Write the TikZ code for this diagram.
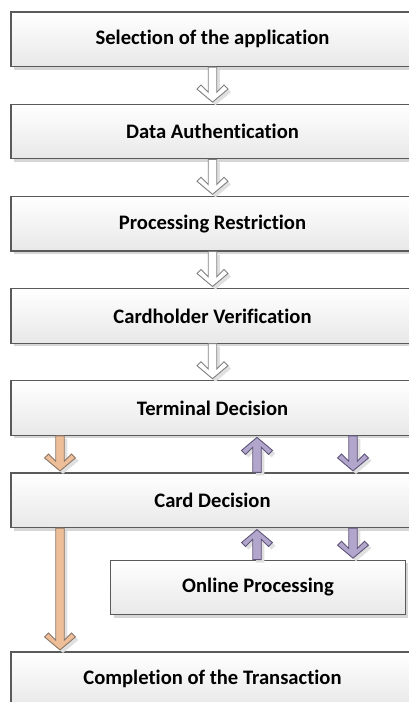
\documentclass[tikz,border=0pt]{standalone}
\usepackage{fontspec}
\setmainfont{Carlito}[Ligatures=NoCommon]
\usetikzlibrary{positioning,calc,shadows}

\definecolor{boxline}{HTML}{5A5A5A}
\definecolor{orangefill}{HTML}{EDBE98}
\definecolor{orangeline}{HTML}{8C7766}
\definecolor{purplefill}{HTML}{B2A6CC}
\definecolor{purpleline}{HTML}{5E5478}

\tikzset{
  stage/.style={rectangle, draw=boxline, line width=1.2pt, top color=white, bottom color=black!9,
    minimum width=403pt, minimum height=54.5pt, inner sep=0pt,
    font=\bfseries\fontsize{20.6}{24}\selectfont,
    drop shadow={shadow xshift=3pt, shadow yshift=-3pt, fill=black!16, opacity=1}},
  grayarrow/.style={draw=black!50, fill=white, line width=0.9pt, line join=miter,
    drop shadow={shadow xshift=3pt, shadow yshift=-3pt, fill=black!12, opacity=1}},
  orangearrow/.style={grayarrow, draw=orangeline, fill=orangefill},
  purplearrow/.style={grayarrow, draw=purpleline, fill=purplefill},
}

% block arrow: style, tail, tip, direction (1 = down, -1 = up)
\newcommand{\blkarrow}[4][grayarrow]{%
  \draw[#1] ($(#2)+(-4.25,0)$) -- ($(#3)+(-4.25,-11.25*#4)$) -- ($(#3)+(-11.5,-18.5*#4)$)
    -- ($(#3)+(-15.5,-14.5*#4)$) -- ($(#3)+(0,-1.5*#4)$) -- ($(#3)+(15.5,-14.5*#4)$)
    -- ($(#3)+(11.5,-18.5*#4)$) -- ($(#3)+(4.25,-11.25*#4)$) -- ($(#2)+(4.25,0)$) -- cycle;}

\begin{document}
\begin{tikzpicture}[x=1pt, y=-1pt]
  \useasboundingbox (0,0) rectangle (408,702);

  \node (sel) [stage] at (212.5,39.25) {Selection of the application};
  \node (auth) [stage, below=36.5pt of sel] {Data Authentication};
  \node (restr) [stage, below=36.5pt of auth] {Processing Restriction};
  \node (verif) [stage, below=36.5pt of restr] {Cardholder Verification};
  \node (term) [stage, below=36.5pt of verif] {Terminal Decision};
  \node (card) [stage, below=36.5pt of term] {Card Decision};
  \node (online) [stage, minimum width=294.5pt] at (258,587.5) {Online Processing};
  \node (compl) [stage] at (212.5,679.25) {Completion of the Transaction};

  % arrow columns
  \coordinate (left) at (60,0);
  \coordinate (up) at (257,0);
  \coordinate (down) at (353,0);

  \blkarrow{sel.south}{auth.north}{1}
  \blkarrow{auth.south}{restr.north}{1}
  \blkarrow{restr.south}{verif.north}{1}
  \blkarrow{verif.south}{term.north}{1}

  \blkarrow[orangearrow]{left |- term.south}{left |- card.north}{1}
  \blkarrow[purplearrow]{up |- card.north}{up |- term.south}{-1}
  \blkarrow[purplearrow]{down |- term.south}{down |- card.north}{1}

  \blkarrow[orangearrow]{left |- card.south}{left |- compl.north}{1}
  \blkarrow[purplearrow]{up |- online.north}{up |- card.south}{-1}
  \blkarrow[purplearrow]{down |- card.south}{down |- online.north}{1}
\end{tikzpicture}
\end{document}
